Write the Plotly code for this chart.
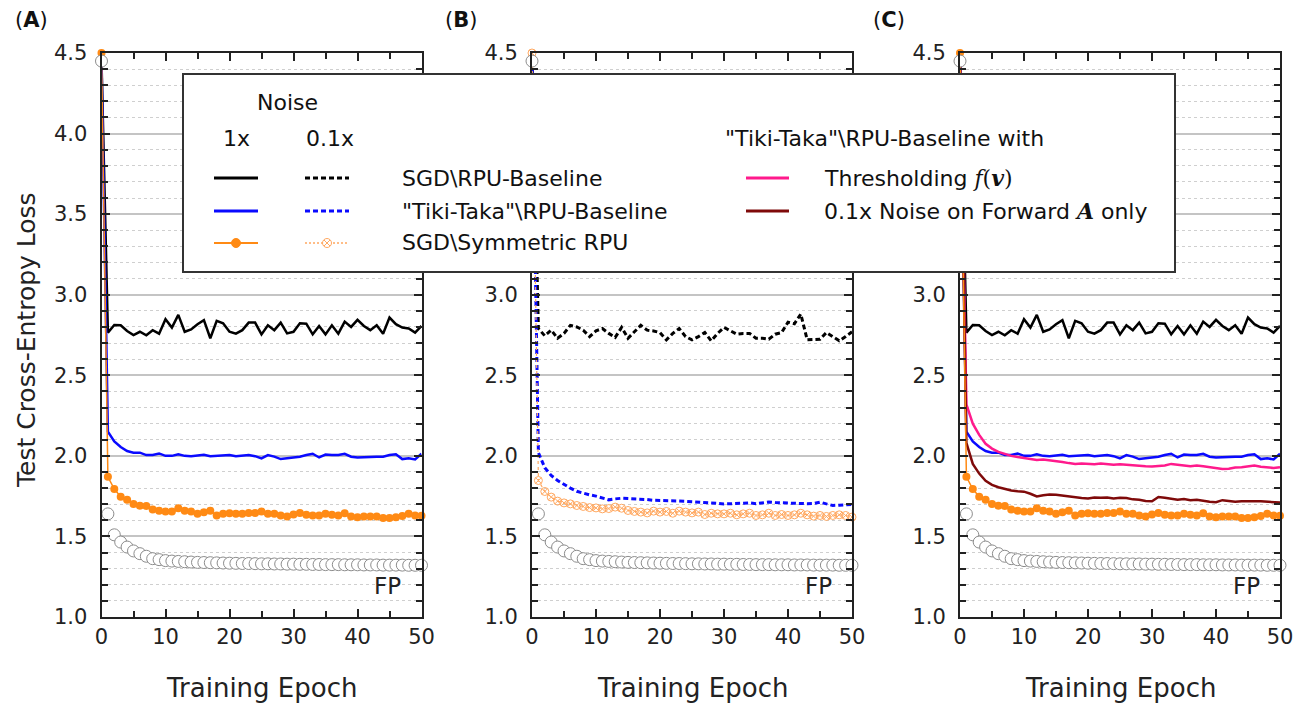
import plotly.graph_objects as go

# Figure size in px
W, H = 1304, 704
# The page body adds an 8px margin around the figure; positions below are
# given in screen px and shifted back by this amount.
PAGE_OFFSET = 8

# Epochs 0..50
EPOCHS = list(range(51))

# 1x noise: SGD \ RPU-Baseline (black solid)
SGD_RPU_1X = [4.45,
              2.765, 2.812, 2.810, 2.775, 2.750, 2.770, 2.748, 2.780, 2.758, 2.848,
              2.796, 2.875, 2.770, 2.785, 2.817, 2.842, 2.730, 2.838, 2.823, 2.770,
              2.758, 2.780, 2.827, 2.827, 2.754, 2.810, 2.780, 2.827, 2.760, 2.770,
              2.823, 2.820, 2.754, 2.806, 2.754, 2.810, 2.758, 2.833, 2.800, 2.844,
              2.806, 2.780, 2.810, 2.758, 2.858, 2.817, 2.796, 2.790, 2.765, 2.806]

# 0.1x noise: SGD \ RPU-Baseline (black dotted)
SGD_RPU_01X = [4.45,
               2.790, 2.745, 2.780, 2.730, 2.760, 2.810, 2.800, 2.780, 2.740, 2.776,
               2.790, 2.760, 2.735, 2.797, 2.730, 2.770, 2.810, 2.780, 2.775, 2.765,
               2.720, 2.760, 2.790, 2.740, 2.720, 2.740, 2.765, 2.714, 2.760, 2.797,
               2.776, 2.755, 2.760, 2.760, 2.730, 2.730, 2.724, 2.755, 2.765, 2.830,
               2.820, 2.880, 2.720, 2.724, 2.724, 2.765, 2.740, 2.714, 2.740, 2.770]

# 1x noise: "Tiki-Taka" \ RPU-Baseline (blue solid)
TT_RPU_1X = [4.45,
             2.150, 2.090, 2.055, 2.030, 2.020, 2.020, 2.005, 2.005, 2.015, 2.000,
             2.000, 2.010, 2.000, 1.997, 2.000, 2.007, 1.998, 2.000, 2.005, 2.005,
             1.998, 2.000, 2.005, 1.998, 1.984, 2.005, 1.995, 1.980, 1.985, 1.990,
             1.995, 2.005, 2.013, 1.990, 2.008, 2.005, 2.005, 2.013, 1.995, 1.990,
             1.990, 1.993, 1.995, 1.995, 2.005, 2.010, 1.980, 1.985, 1.978, 2.013]

# 0.1x noise: "Tiki-Taka" \ RPU-Baseline (blue dashed)
TT_RPU_01X = [4.45,
              2.020, 1.926, 1.878, 1.847, 1.822, 1.800, 1.780, 1.768, 1.758, 1.750,
              1.737, 1.727, 1.733, 1.737, 1.735, 1.734, 1.731, 1.729, 1.724, 1.724,
              1.721, 1.720, 1.720, 1.718, 1.715, 1.714, 1.712, 1.707, 1.705, 1.702,
              1.703, 1.705, 1.706, 1.708, 1.703, 1.706, 1.713, 1.710, 1.708, 1.707,
              1.706, 1.705, 1.703, 1.704, 1.713, 1.702, 1.692, 1.694, 1.697, 1.698]

# 1x noise: SGD \ Symmetric RPU (orange, filled dots)
SGD_SYM_1X = [4.50,
              1.870, 1.794, 1.747, 1.728, 1.702, 1.691, 1.689, 1.667, 1.660, 1.654,
              1.654, 1.675, 1.660, 1.654, 1.640, 1.650, 1.660, 1.630, 1.640, 1.644,
              1.640, 1.640, 1.646, 1.646, 1.654, 1.640, 1.640, 1.630, 1.623, 1.636,
              1.646, 1.634, 1.630, 1.630, 1.640, 1.634, 1.630, 1.644, 1.623, 1.619,
              1.623, 1.623, 1.623, 1.615, 1.615, 1.619, 1.626, 1.640, 1.630, 1.628]

# 0.1x noise: SGD \ Symmetric RPU (light orange, open markers)
SGD_SYM_01X = [4.50,
               1.847, 1.779, 1.744, 1.719, 1.708, 1.702, 1.692, 1.686, 1.679, 1.677,
               1.671, 1.673, 1.682, 1.675, 1.661, 1.655, 1.651, 1.646, 1.657, 1.651,
               1.655, 1.644, 1.657, 1.651, 1.646, 1.651, 1.636, 1.644, 1.640, 1.640,
               1.644, 1.634, 1.640, 1.644, 1.630, 1.634, 1.644, 1.630, 1.636, 1.630,
               1.634, 1.644, 1.634, 1.626, 1.630, 1.624, 1.630, 1.634, 1.630, 1.620]

# Floating point reference (white circles)
FP = [4.45,
      1.640, 1.510, 1.465, 1.434, 1.410, 1.393, 1.377, 1.362, 1.356, 1.350,
      1.347, 1.345, 1.343, 1.341, 1.339, 1.338, 1.337, 1.336, 1.335, 1.334,
      1.333, 1.332, 1.332, 1.331, 1.330, 1.330, 1.329, 1.329, 1.328, 1.328,
      1.327, 1.327, 1.326, 1.326, 1.325, 1.325, 1.325, 1.324, 1.324, 1.324,
      1.323, 1.323, 1.323, 1.322, 1.322, 1.322, 1.322, 1.321, 1.321, 1.321]

# "Tiki-Taka" with thresholding f(v) (pink)
TT_THRESH = [4.45,
             2.320, 2.200, 2.130, 2.075, 2.045, 2.025, 2.012, 2.000, 1.993, 1.988,
             1.980, 1.975, 1.977, 1.973, 1.970, 1.962, 1.955, 1.950, 1.952, 1.950,
             1.948, 1.952, 1.947, 1.945, 1.948, 1.944, 1.940, 1.938, 1.936, 1.934,
             1.935, 1.940, 1.950, 1.943, 1.940, 1.935, 1.940, 1.935, 1.930, 1.925,
             1.918, 1.920, 1.928, 1.930, 1.935, 1.940, 1.932, 1.928, 1.925, 1.930]

# "Tiki-Taka" with 0.1x noise on forward A only (dark red)
TT_FWD_A = [4.45,
            2.080, 1.950, 1.890, 1.845, 1.820, 1.805, 1.795, 1.785, 1.780, 1.778,
            1.765, 1.748, 1.755, 1.760, 1.758, 1.752, 1.748, 1.740, 1.738, 1.735,
            1.742, 1.740, 1.742, 1.736, 1.740, 1.738, 1.730, 1.728, 1.720, 1.718,
            1.745, 1.740, 1.735, 1.728, 1.732, 1.725, 1.728, 1.720, 1.715, 1.712,
            1.725, 1.720, 1.715, 1.718, 1.720, 1.718, 1.718, 1.715, 1.710, 1.710]

Y_TICKS = [1.0, 1.5, 2.0, 2.5, 3.0, 3.5, 4.0, 4.5]
X_TICKS = [0, 10, 20, 30, 40, 50]
PANEL_LABELS = ["A", "B", "C"]

FONT = "DejaVu Sans"
BLACK = "#000000"
BLUE = "#0a0aff"
ORANGE = "#ff8a14"
LIGHT_ORANGE = "#ffa860"
PINK = "#ff1a8c"
DARK_RED = "#7f0a0a"


def px(x):
    return (x - PAGE_OFFSET) / W


def py(y):
    return 1 - (y - PAGE_OFFSET) / H


def line_trace(y, color, width=2.5, dash="solid", axis=1):
    suffix = "" if axis == 1 else str(axis)
    return go.Scatter(x=EPOCHS, y=y, mode="lines",
                      line=dict(color=color, width=width, dash=dash),
                      xaxis="x" + suffix, yaxis="y" + suffix,
                      showlegend=False, cliponaxis=False)


def orange_1x_trace(axis):
    suffix = "" if axis == 1 else str(axis)
    return go.Scatter(x=EPOCHS, y=SGD_SYM_1X, mode="lines+markers",
                      line=dict(color=ORANGE, width=1.5),
                      marker=dict(size=8, color=ORANGE),
                      xaxis="x" + suffix, yaxis="y" + suffix,
                      showlegend=False, cliponaxis=False)


def fp_trace(axis):
    suffix = "" if axis == 1 else str(axis)
    return go.Scatter(x=EPOCHS, y=FP, mode="markers",
                      marker=dict(size=12, color="white",
                                  line=dict(color="#8c8c8c", width=1)),
                      xaxis="x" + suffix, yaxis="y" + suffix,
                      showlegend=False, cliponaxis=False)


def build_figure():
    fig = go.Figure()

    # Panel A: 1x noise
    fig.add_trace(line_trace(SGD_RPU_1X, BLACK, axis=1))
    fig.add_trace(line_trace(TT_RPU_1X, BLUE, axis=1))
    fig.add_trace(orange_1x_trace(1))
    fig.add_trace(fp_trace(1))

    # Panel B: 0.1x noise
    fig.add_trace(line_trace(SGD_RPU_01X, BLACK, width=3, dash="5px,3px", axis=2))
    fig.add_trace(line_trace(TT_RPU_01X, BLUE, width=3, dash="5px,3px", axis=2))
    fig.add_trace(go.Scatter(x=EPOCHS, y=SGD_SYM_01X, mode="lines+markers",
                             line=dict(color=LIGHT_ORANGE, width=1.2, dash="dot"),
                             marker=dict(size=8, symbol="circle-x-open",
                                         color=LIGHT_ORANGE, line=dict(width=1)),
                             xaxis="x2", yaxis="y2", showlegend=False,
                             cliponaxis=False))
    fig.add_trace(fp_trace(2))

    # Panel C: Tiki-Taka variants
    fig.add_trace(line_trace(SGD_RPU_1X, BLACK, axis=3))
    fig.add_trace(line_trace(TT_RPU_1X, BLUE, axis=3))
    fig.add_trace(line_trace(TT_THRESH, PINK, axis=3))
    fig.add_trace(line_trace(TT_FWD_A, DARK_RED, axis=3))
    fig.add_trace(orange_1x_trace(3))
    fig.add_trace(fp_trace(3))

    # Panel geometry (screen px)
    panels_x = [(101.5, 421.5), (532, 852), (960, 1280)]
    y_top, y_bot = 53, 617

    axis_common = dict(showline=True, linewidth=2, linecolor="#222",
                       mirror="allticks", ticks="inside", tickcolor="#222",
                       zeroline=False, automargin=False,
                       tickfont=dict(family=FONT, size=21, color="#222"))
    layout_axes = {}
    for i, (x0, x1) in enumerate(panels_x):
        suffix = "" if i == 0 else str(i + 1)
        layout_axes["xaxis" + suffix] = dict(
            axis_common, domain=[px(x0), px(x1)], range=[0, 50],
            anchor="y" + suffix, tickvals=X_TICKS, ticklen=8, tickwidth=1.5,
            showgrid=False,
            minor=dict(dtick=5, tick0=0, ticks="inside", ticklen=6,
                       tickwidth=1.5, tickcolor="#222", showgrid=False))
        layout_axes["yaxis" + suffix] = dict(
            axis_common, domain=[py(y_bot), py(y_top)], range=[1.0, 4.5],
            anchor="x" + suffix, tickvals=Y_TICKS,
            ticktext=["%.1f" % v for v in Y_TICKS], ticklen=8, tickwidth=1.5,
            ticklabelstandoff=8,
            showgrid=True, gridcolor="#c4c4c4", gridwidth=1.5,
            minor=dict(dtick=0.1, tick0=1.0, ticks="inside", ticklen=6,
                       tickwidth=1.5, tickcolor="#222", showgrid=True,
                       gridcolor="#cfcfcf", griddash="dot", gridwidth=1))

    def note(text, x, y, size, anchor="center", angle=0, color="#222"):
        return dict(text=text, x=px(x), y=py(y), xref="paper", yref="paper",
                    xanchor=anchor, yanchor="middle", textangle=angle,
                    showarrow=False,
                    font=dict(family=FONT, size=size, color=color))

    annotations = []
    for i, (x0, x1) in enumerate(panels_x):
        suffix = "" if i == 0 else str(i + 1)
        annotations.append(note("Training Epoch", (x0 + x1) / 2, 688, 26))
        annotations.append(dict(text="FP", x=44.7, y=1.19, xref="x" + suffix,
                                yref="y" + suffix, showarrow=False,
                                xanchor="center", yanchor="middle",
                                font=dict(family=FONT, size=23, color="#222")))
        annotations.append(note("(<b>%s</b>)" % PANEL_LABELS[i], x0 - 89, 20,
                                21, anchor="left", color="#111"))

    annotations.append(note("Test Cross-Entropy Loss", 26, 340, 25, angle=-90))

    # Legend box content
    serif = "font-family:'DejaVu Serif'"
    legend_texts = [
        ("Noise", 287, 102, "center"),
        ("1x", 236, 138, "center"),
        ("0.1x", 330, 138, "center"),
        ('"Tiki-Taka"\\RPU-Baseline with', 885, 138, "center"),
        ("SGD\\RPU-Baseline", 400, 178, "left"),
        ('"Tiki-Taka"\\RPU-Baseline', 400, 211, "left"),
        ("SGD\\Symmetric RPU", 400, 243, "left"),
        ("Thresholding <span style=\"%s\"><i>f</i>(<b><i>v</i></b>)</span>" % serif,
         822, 178, "left"),
        ("0.1x Noise on Forward <span style=\"%s\"><b><i>A</i></b></span> only" % serif,
         822, 211, "left"),
    ]
    for text, x, y, anchor in legend_texts:
        annotations.append(note(text, x, y, 22, anchor=anchor, color="#111"))

    shapes = [dict(type="rect", xref="paper", yref="paper",
                   x0=px(183), x1=px(1175), y0=py(272), y1=py(74),
                   fillcolor="white", line=dict(color="#333", width=2),
                   layer="above")]

    def seg(x0, x1, y, color, width=3, dash="solid"):
        return dict(type="line", xref="paper", yref="paper", x0=px(x0),
                    x1=px(x1), y0=py(y), y1=py(y), layer="above",
                    line=dict(color=color, width=width, dash=dash))

    def dot(cx, cy, r, fill, color, width=1):
        return dict(type="circle", xref="paper", yref="paper",
                    x0=px(cx - r), x1=px(cx + r), y0=py(cy + r), y1=py(cy - r),
                    fillcolor=fill, line=dict(color=color, width=width),
                    layer="above")

    shapes += [
        seg(214, 258, 178, BLACK),
        seg(305, 349, 178, BLACK, dash="5px,3px"),
        seg(214, 258, 211, BLUE),
        seg(305, 349, 211, BLUE, dash="5px,3px"),
        seg(214, 258, 243, ORANGE, width=2),
        dot(236, 243, 4.5, ORANGE, ORANGE),
        seg(305, 349, 243, LIGHT_ORANGE, width=1.5, dash="2px,2px"),
        dot(327, 243, 4.5, "white", LIGHT_ORANGE),
        seg(746, 789, 178, PINK),
        seg(746, 789, 211, DARK_RED),
    ]
    # x inside the open orange marker
    shapes += [
        dict(type="line", xref="paper", yref="paper", layer="above",
             x0=px(324), x1=px(330), y0=py(240), y1=py(246),
             line=dict(color=LIGHT_ORANGE, width=1)),
        dict(type="line", xref="paper", yref="paper", layer="above",
             x0=px(324), x1=px(330), y0=py(246), y1=py(240),
             line=dict(color=LIGHT_ORANGE, width=1)),
    ]

    fig.update_layout(
        width=W, height=H,
        margin=dict(l=0, r=0, t=0, b=0),
        paper_bgcolor="white", plot_bgcolor="white",
        showlegend=False,
        annotations=annotations,
        shapes=shapes,
        **layout_axes,
    )
    return fig


def main():
    fig = build_figure()
    fig.write_html("out.html")


if __name__ == "__main__":
    main()
